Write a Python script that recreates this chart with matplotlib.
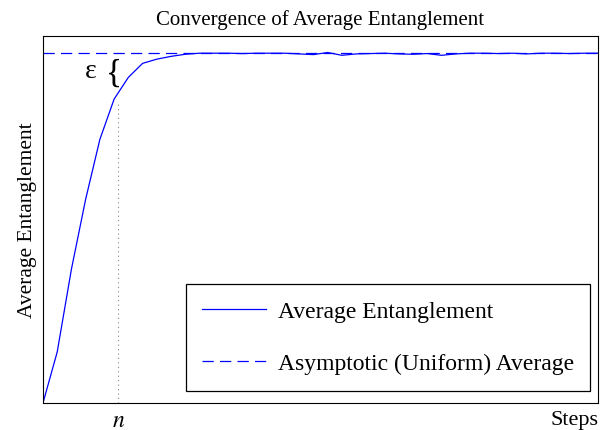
import matplotlib
matplotlib.use('Agg')
import matplotlib.pyplot as plt

plt.rcParams['font.family'] = 'Liberation Serif'
plt.rcParams['mathtext.fontset'] = 'stix'

# data (asymptote normalised to 1)
steps = list(range(0, 40))
avg_ent = [0.0, 0.146, 0.383, 0.583, 0.754, 0.869, 0.931, 0.971, 0.983, 0.991,
           0.997, 1.0, 1.0, 1.0, 0.999, 1.0, 1.0, 1.0, 0.998, 0.996,
           1.002, 0.994, 0.998, 0.999, 1.0, 0.998, 0.997, 0.999, 0.994, 0.998,
           1.0, 1.0, 0.999, 1.0, 0.998, 1.0, 1.0, 0.999, 1.0, 1.0]
asymptote = 1.0
n_step = 5.3

fig = plt.figure(figsize=(6.08, 4.31), dpi=100)
ax = fig.add_axes([0.0707, 0.0626, 0.9129, 0.8514])

ax.plot(steps, avg_ent, color='#0000ff', lw=0.9, label='Average Entanglement')
ax.axhline(asymptote, color='#0000ff', lw=0.9, ls=(0, (9, 5)),
           label='Asymptotic (Uniform) Average')

ax.plot([n_step, n_step], [0, 0.86], color='#888888', lw=0.8, ls=(0, (1, 3)))

ax.text(3.37, 0.951, 'ε', fontsize=20, ha='center', va='center')
ax.text(5.0, 0.945, '{', fontsize=24, ha='center', va='center')

ax.set_xlim(0, 39)
ax.set_ylim(0, 1.049)
ax.set_xticks([n_step])
ax.set_xticklabels(['$n$'], fontsize=17)
ax.tick_params(axis='x', length=0, pad=5)
ax.set_yticks([])

ax.text(1.0, -0.02, 'Steps', transform=ax.transAxes, ha='right', va='top', fontsize=16)
ax.set_ylabel('Average Entanglement', fontsize=15.5, labelpad=4)
ax.set_title('Convergence of Average Entanglement', fontsize=15, pad=9)

leg = ax.legend(loc='lower right', bbox_to_anchor=(0.986, 0.033), fontsize=17,
                fancybox=False, edgecolor='black', framealpha=1,
                handlelength=2.7, handletextpad=0.5, labelspacing=1.3,
                borderpad=0.7, borderaxespad=0)
leg.get_frame().set_linewidth(0.9)

fig.savefig('out.png', dpi=100)
